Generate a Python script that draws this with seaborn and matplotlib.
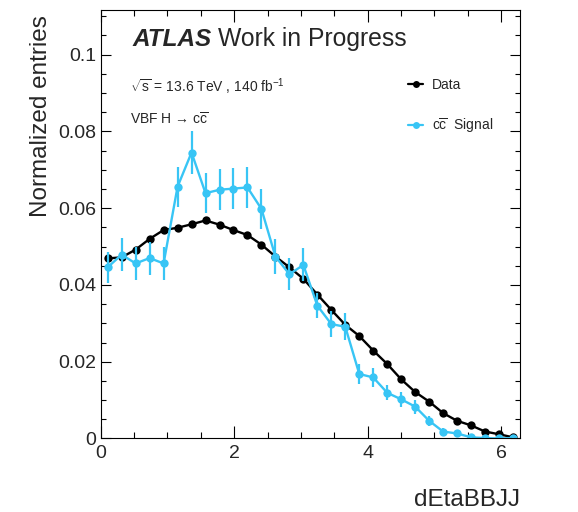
import numpy as np
import pandas as pd
import matplotlib
matplotlib.use("Agg")
import matplotlib.pyplot as plt
from matplotlib.lines import Line2D
from matplotlib.ticker import MultipleLocator
import seaborn as sns

# Binning of |delta eta| between the b-jet pair and the VBF jet pair
n_bins = 30
x_max = 2 * np.pi
bin_centers = (np.arange(n_bins) + 0.5) * x_max / n_bins

data_values = [
    0.0469, 0.0472, 0.0492, 0.0520, 0.0543, 0.0549, 0.0558, 0.0568, 0.0557, 0.0543,
    0.0530, 0.0505, 0.0474, 0.0446, 0.0416, 0.0375, 0.0335, 0.0296, 0.0267, 0.0229,
    0.0194, 0.0154, 0.0121, 0.0096, 0.0066, 0.0046, 0.0034, 0.0018, 0.0011, 0.0003,
]
signal_values = [
    0.0446, 0.0479, 0.0456, 0.0470, 0.0456, 0.0656, 0.0745, 0.0639, 0.0648, 0.0651,
    0.0654, 0.0598, 0.0474, 0.0428, 0.0452, 0.0346, 0.0298, 0.0291, 0.0168, 0.0159,
    0.0119, 0.0102, 0.0083, 0.0046, 0.0018, 0.0013, 0.0003, 0.0001, 0.0000, 0.0001,
]
signal_errors = [
    0.0040, 0.0043, 0.0043, 0.0043, 0.0043, 0.0052, 0.0055, 0.0052, 0.0053, 0.0053,
    0.0053, 0.0051, 0.0046, 0.0042, 0.0043, 0.0033, 0.0033, 0.0035, 0.0026, 0.0025,
    0.0020, 0.0020, 0.0018, 0.0013, 0.0008, 0.0007, 0.0004, 0.0002, 0.0001, 0.0002,
]

sample_names = ["Data", "Signal"]
legend_labels = ["Data", r"c$\mathregular{\overline{c}}$  Signal"]
colors = {"Data": "black", "Signal": "#38c5f5"}

df = pd.DataFrame({
    "x": np.concatenate([bin_centers, bin_centers]),
    "y": np.concatenate([data_values, signal_values]),
    "sample": ["Data"] * n_bins + ["Signal"] * n_bins,
})

sns.set_theme(style="ticks")
plt.rcParams["font.family"] = ["Liberation Sans", "DejaVu Sans"]
plt.rcParams["mathtext.fontset"] = "custom"
plt.rcParams["mathtext.rm"] = "Liberation Sans"
plt.rcParams["mathtext.it"] = "Liberation Sans:italic"
plt.rcParams["mathtext.bf"] = "Liberation Sans:bold"

fig = plt.figure(figsize=(5.78, 5.12), dpi=100)
ax = fig.add_axes([0.1742, 0.1436, 0.7255, 0.8359])

sns.lineplot(
    data=df, x="x", y="y", hue="sample", hue_order=sample_names,
    palette=colors, marker="o", markersize=6, markeredgewidth=0,
    linewidth=1.7, sort=False, legend=False, ax=ax,
)
ax.errorbar(
    bin_centers, signal_values, yerr=signal_errors, fmt="none",
    ecolor=colors["Signal"], elinewidth=1.6, capsize=0, zorder=3,
)

ax.set_xlim(0, x_max)
ax.set_ylim(0, 0.1115)

ax.xaxis.set_major_locator(MultipleLocator(2))
ax.xaxis.set_minor_locator(MultipleLocator(0.5))
ax.yaxis.set_major_locator(MultipleLocator(0.02))
ax.yaxis.set_minor_locator(MultipleLocator(0.005))
ax.yaxis.set_major_formatter(plt.FuncFormatter(lambda v, p: f"{v:g}"))
ax.xaxis.set_major_formatter(plt.FuncFormatter(lambda v, p: f"{v:g}"))

ax.tick_params(axis="both", which="both", direction="in", top=True, right=True,
               labelsize=14, width=0.8, color="black")
ax.tick_params(axis="x", which="major", length=8.9, pad=5)
ax.tick_params(axis="x", which="minor", length=4.5)
ax.tick_params(axis="y", which="major", length=7.2, pad=3)
ax.tick_params(axis="y", which="minor", length=3.6)
for spine in ax.spines.values():
    spine.set_linewidth(0.8)
    spine.set_color("black")

ax.set_ylabel("Normalized entries", fontsize=17.5, loc="top")
ax.set_xlabel("dEtaBBJJ", fontsize=17.5, loc="right")
ax.yaxis.set_label_coords(-0.117, 0.99)
ax.xaxis.set_label_coords(1.0, -0.118)

# Experiment label and analysis information
fig.text(133 / 578, 1 - 46 / 512, "ATLAS", fontsize=17.5, fontweight="bold",
         fontstyle="italic", ha="left", va="baseline")
fig.text(218 / 578, 1 - 46 / 512, "Work in Progress", fontsize=17.8,
         ha="left", va="baseline")
fig.text(130 / 578, 1 - 92 / 512,
         r"$\mathregular{\sqrt{s}}$ = 13.6 TeV , 140 fb$^{\mathregular{-1}}$",
         fontsize=10, ha="left", va="baseline")
fig.text(130 / 578, 1 - 125 / 512,
         "VBF H \u2192 c" + r"$\mathregular{\overline{c}}$",
         fontsize=10, ha="left", va="baseline")

handles = [
    Line2D([], [], color=colors[s], marker="o", markersize=5,
           markeredgewidth=0, linewidth=1.6)
    for s in sample_names
]
fig.legend(handles, legend_labels, loc="upper left",
           bbox_to_anchor=(408 / 578, 1 - 78 / 512), frameon=False,
           fontsize=10, handlelength=1.1, handletextpad=0.6,
           labelspacing=1.75, borderpad=0, borderaxespad=0)

fig.savefig("out.png", dpi=100)
